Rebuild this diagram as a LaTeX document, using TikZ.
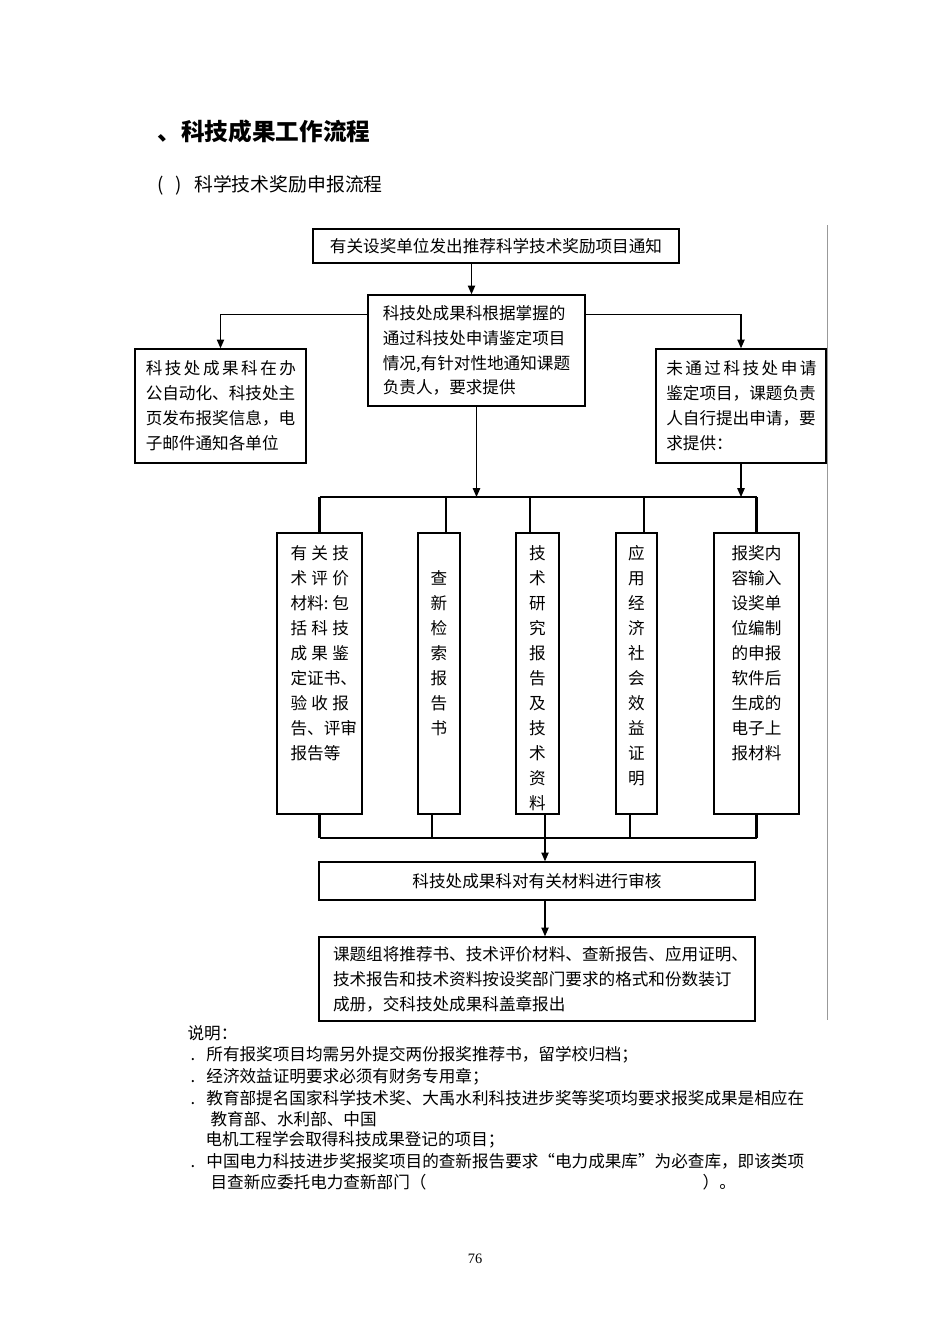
\documentclass[tikz,border=0pt]{standalone}
\usepackage{fontspec}
\setmainfont{Noto Sans CJK SC}
\newfontfamily\pagefont{Liberation Serif}
\usetikzlibrary{arrows.meta,positioning}
\newcommand{\pxu}{0.6264pt}
\tikzset{
  chart/.style={x=\pxu,y=-\pxu,font=\fontsize{10.4}{15.6}\selectfont,line width=0.8pt},
  stepbox/.style={draw,line width=0.9pt,inner sep=0pt,align=center},
  tallbox/.style={draw,line width=0.9pt,inner sep=0pt,minimum height=281*\pxu},
  celltext/.style={inner sep=0pt,align=center,font=\fontsize{10.4}{15.66}\selectfont},
  notetext/.style={anchor=west,inner sep=0pt,font=\fontsize{10.4}{12}\selectfont},
  flow/.style={-{Triangle[length=5.5pt,width=4.6pt]},line width=0.8pt},
  rail/.style={line width=1.5pt},
}

\begin{document}
\begin{tikzpicture}[chart]
  \useasboundingbox (0,0) rectangle (950,1344);

  % headings
  \node[anchor=west,inner sep=0pt,font=\fontsize{14.8}{16}\selectfont\bfseries] (head) at (157,131)
    {、科技成果工作流程};
  \node[anchor=west,inner sep=0pt,font=\fontsize{11.8}{14}\selectfont] (subhead) at (157,185)
    {(\hspace{7pt})\hspace{8pt}科学技术奖励申报流程};

  % upper part
  \node[stepbox,minimum width=366*\pxu,minimum height=34*\pxu] (t1) at (496,246)
    {有关设奖单位发出推荐科学技术奖励项目通知};
  \node[stepbox,align=left,minimum width=217*\pxu,minimum height=111*\pxu] (b2) at (476.5,350.5)
    {科技处成果科根据掌握的\\通过科技处申请鉴定项目\\情况,有针对性地通知课题\\负责人，要求提供};
  \node[stepbox,align=left,minimum width=171*\pxu,minimum height=114*\pxu] (bL) at (220.5,406)
    {\makebox[92.7pt][s]{科 技 处 成 果 科 在 办}\\公自动化、科技处主\\页发布报奖信息，电\\子邮件通知各单位};
  \node[stepbox,align=left,minimum width=170*\pxu,minimum height=114*\pxu] (bR) at (741,406)
    {\makebox[91pt][s]{未 通 过 科 技 处 申 请}\\鉴定项目，课题负责\\人自行提出申请，要\\求提供：};

  \draw[flow] ([xshift=-5*\pxu]b2.north |- t1.south) -- ([xshift=-5*\pxu]b2.north);
  \draw[flow] ([yshift=-20*\pxu]b2.north west) -| (bL.north);
  \draw[flow] ([yshift=-20*\pxu]b2.north east) -| (bR.north);

  % material boxes
  \node[tallbox,minimum width=85*\pxu] (m1) at (319.5,673.5) {};
  \node[tallbox,minimum width=42*\pxu] (m2) at (439,673.5) {};
  \node[tallbox,minimum width=43*\pxu] (m3) at (537.5,673.5) {};
  \node[tallbox,minimum width=41*\pxu] (m4) at (636.5,673.5) {};
  \node[tallbox,minimum width=85*\pxu] (m5) at (756.5,673.5) {};

  \node[celltext,align=left,anchor=north west] (m1t) at (290,545)
    {\makebox[36.5pt][s]{有 关 技}\\\makebox[36.5pt][s]{术 评 价}\\\makebox[36.5pt][s]{材料:\hfil 包}\\
     \makebox[36.5pt][s]{括 科 技}\\\makebox[36.5pt][s]{成 果 鉴}\\定证书、\\
     \makebox[36.5pt][s]{验 收 报}\\告、评审\\报告等};
  \node[celltext,anchor=north] (m2t) at (439,570) {查\\新\\检\\索\\报\\告\\书};
  \node[celltext,anchor=north] (m3t) at (537.5,545) {技\\术\\研\\究\\报\\告\\及\\技\\术\\资\\料};
  \node[celltext,anchor=north] (m4t) at (636.5,545) {应\\用\\经\\济\\社\\会\\效\\益\\证\\明};
  \node[celltext,align=left,anchor=north] (m5t) at (756.5,545)
    {报奖内\\容输入\\设奖单\\位编制\\的申报\\软件后\\生成的\\电子上\\报材料};

  \coordinate (busT) at (0,497);
  \coordinate (busB) at (0,838);
  \coordinate (joinB) at (545,838);

  \draw[flow] (b2.south) -- (b2.south |- busT);
  \draw[flow] (bR.south) -- (bR.south |- busT);
  \draw (m1.north |- busT) -- (m5.north |- busT);
  \draw (m1.south |- busB) -- (m5.south |- busB);
  \draw[rail] (m1.north) -- (m1.north |- busT);
  \draw[rail] (m5.north) -- (m5.north |- busT);
  \draw[rail] (m1.south) -- (m1.south |- busB);
  \draw[rail] (m5.south) -- (m5.south |- busB);
  \foreach \cell/\up/\dn in {m2/7/-7,m3/-7.5/7.5,m4/7.5/-6.5}{
    \draw ([xshift=\up*\pxu]\cell.north) -- ([xshift=\up*\pxu]\cell.north |- busT);
    \draw ([xshift=\dn*\pxu]\cell.south) -- ([xshift=\dn*\pxu]\cell.south |- busB);
  }

  % lower part
  \node[stepbox,minimum width=436*\pxu,minimum height=38*\pxu] (a1) at (537,881)
    {科技处成果科对有关材料进行审核};
  \node[stepbox,align=left,minimum width=436*\pxu,minimum height=84*\pxu,
        text width=436*\pxu-28*\pxu] (a2) at (537,979)
    {课题组将推荐书、技术评价材料、查新报告、应用证明、\\技术报告和技术资料按设奖部门要求的格式和份数装订\\成册，交科技处成果科盖章报出};

  \draw[flow] (joinB) -- (joinB |- a1.north);
  \draw[flow] (joinB |- a1.south) -- (joinB |- a2.north);

  \coordinate (edgeT) at (827,225);
  \coordinate (edgeB) at (827,1020);
  \draw[black!40,line width=0.6pt] (edgeT) -- (edgeB);

  % notes
  \node[notetext] (n0) at (187,1033) {说明：};
  \node[notetext] (n1) at (190,1055) {.\hspace{7pt}所有报奖项目均需另外提交两份报奖推荐书，留学校归档；};
  \node[notetext] (n2) at (190,1077) {.\hspace{7pt}经济效益证明要求必须有财务专用章；};
  \node[notetext] (n3) at (190,1098) {.\hspace{7pt}教育部提名国家科学技术奖、大禹水利科技进步奖等奖项均要求报奖成果是相应在};
  \node[notetext] (n4) at (210,1119) {教育部、水利部、中国};
  \node[notetext] (n5) at (205,1140) {电机工程学会取得科技成果登记的项目；};
  \node[notetext] (n6) at (190,1161) {.\hspace{7pt}中国电力科技进步奖报奖项目的查新报告要求“电力成果库”为必查库，即该类项};
  \node[notetext] (n7) at (210,1182) {目查新应委托电力查新部门（\hspace{173pt}）。};

  \node[inner sep=0pt,font=\pagefont\fontsize{9}{10}\selectfont] (pageno) at (475,1259) {76};
\end{tikzpicture}
\end{document}
